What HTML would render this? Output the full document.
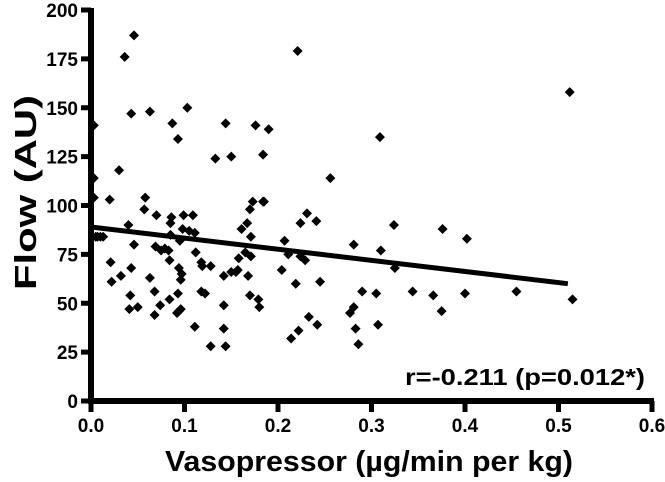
<!DOCTYPE html>
<html><head><meta charset="utf-8"><style>
body{margin:0;background:#fff;}
svg{display:block;font-family:"Liberation Sans",Arial,sans-serif;font-weight:bold;}
</style></head><body>
<svg id="chart" width="665" height="482" viewBox="0 0 665 482"></svg>
<script>
const xs=[0.003,0.003,0.003,0.005,0.01,0.02,0.03,0.036,0.046,0.043,0.063,0.087,0.093,0.103,0.144,0.133,0.15,0.221,0.19,0.184,0.309,0.256,0.184,
0.007,0.013,0.021,0.022,0.032,0.043,0.04,0.046,0.057,0.042,0.041,0.05,0.063,0.068,0.068,0.074,0.069,0.075,0.079,0.083,0.07,0.086,0.085,0.084,0.084,0.093,0.092,0.094,0.096,0.094,0.096,0.095,0.098,0.099,0.109,0.111,0.111,0.118,0.119,0.128,0.118,0.122,0.142,0.142,0.144,0.142,0.15,0.157,0.158,0.165,0.168,0.161,0.167,0.17,0.18,0.179,0.17,0.173,0.171,0.171,0.185,
0.231,0.224,0.241,0.207,0.211,0.224,0.229,0.204,0.219,0.245,0.281,0.31,0.325,0.324,0.376,0.375,0.366,0.344,0.305,0.29,0.281,0.277,0.307,0.283,0.286,0.233,0.242,0.222,0.214,0.4,0.402,0.455,0.512,0.515,0.176,0.155,0.128,0.105,0.058,0.097,0.112,0.085];
const ys=[141,114,104,84,84,103,118,176,187,147,148,142,134,150,142,124,125,179,139,126,135,114,102,
84,84,71,61,64,68,90,80,98,54,47,48,63,56,44,49,79,77,78,77,95,94,85,72,52,55,45,46,47,68,62,82,88,95,95,86,38,71,69,28,56,55,49,37,28,64,66,67,73,76,64,88,91,54,48,52,98,102,74,84,102,
96,91,92,82,75,74,72,67,60,61,80,77,68,90,88,46,54,56,55,56,48,45,39,37,29,43,39,36,32,55,83,56,158,52,141,66,69,87,104,65,76,91];
const fitX=[0,0.51];
const fitY=[89,60];
const xTicks=[0,0.1,0.2,0.3,0.4,0.5,0.6];
const xTickLabels=["0.0","0.1","0.2","0.3","0.4","0.5","0.6"];
const yTicks=[0,25,50,75,100,125,150,175,200];
const yTickLabels=["0","25","50","75","100","125","150","175","200"];

const X=v=>91+v*935;
const Y=v=>401-v*1.955;
const svg=document.getElementById('chart');
const NS='http://www.w3.org/2000/svg';
function mk(t,a,p){const e=document.createElementNS(NS,t);for(const k in a)e.setAttribute(k,a[k]);(p||svg).appendChild(e);return e;}

let e=mk('line',{x1:X(0),y1:Y(200)-2,x2:X(0),y2:Y(0)+3,stroke:'#000','stroke-width':6});


e=mk('line',{x1:X(0)-3,y1:Y(0),x2:X(0.6)+2,y2:Y(0),stroke:'#000','stroke-width':6});



yTicks.forEach((v,i)=>{
  let t=mk('line',{x1:X(0)-10,y1:Y(v),x2:X(0),y2:Y(v),stroke:'#000','stroke-width':5});
  
  
  let l=mk('text',{x:X(0)-13,y:Y(v)+7,'text-anchor':'end','font-size':19});
  l.textContent=yTickLabels[i];
  
  
});
xTicks.forEach((v,i)=>{
  let t=mk('line',{x1:X(v),y1:Y(0),x2:X(v),y2:Y(0)+11,stroke:'#000','stroke-width':5});
  
  
  let l=mk('text',{x:X(v),y:Y(0)+31,'text-anchor':'middle','font-size':19});
  l.textContent=xTickLabels[i];
  
  
});

xs.forEach((x,i)=>{
  const cx=X(x),cy=Y(ys[i]),r=5;
  let p=mk('polygon',{points:`${cx},${cy-r} ${cx+r},${cy} ${cx},${cy+r} ${cx-r},${cy}`,fill:'#000'});
  
  
});

e=mk('line',{x1:X(fitX[0]),y1:Y(fitY[0]),x2:X(fitX[1]),y2:Y(fitY[1]),stroke:'#000','stroke-width':5});



e=mk('text',{x:405,y:385,'font-size':23,textLength:240,lengthAdjust:'spacingAndGlyphs'});
e.textContent='r=-0.211 (p=0.012*)';



e=mk('text',{x:165,y:471,'font-size':29,textLength:408,lengthAdjust:'spacingAndGlyphs'});
e.textContent='Vasopressor (µg/min per kg)';



e=mk('text',{x:0,y:0,'font-size':31,textLength:195,lengthAdjust:'spacingAndGlyphs',transform:'translate(36,290) rotate(-90)'});
e.textContent='Flow (AU)';


</script>
</body></html>
